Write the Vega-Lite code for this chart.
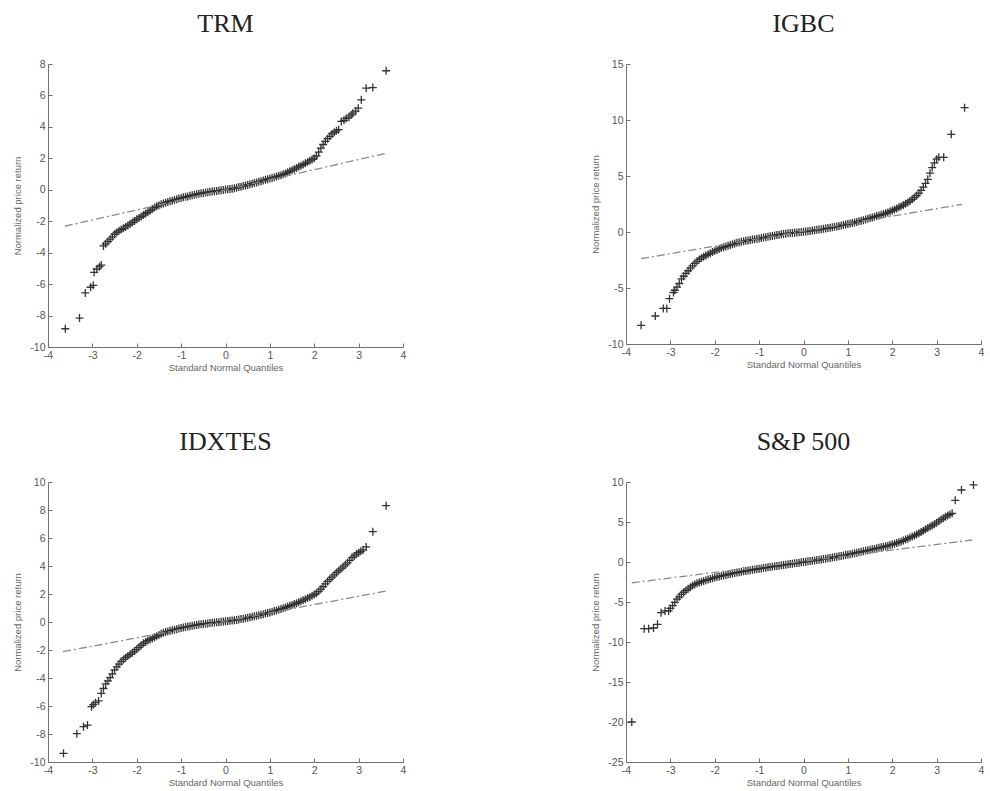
{
  "$schema": "https://vega.github.io/schema/vega-lite/v6.json",
  "background": "white",
  "padding": {"left": 12, "top": 11, "right": 5, "bottom": 5},
  "config": {
    "view": {"stroke": null},
    "title": {"font": "Liberation Serif", "fontSize": 26, "fontWeight": "normal", "color": "#222", "anchor": "middle", "offset": 22},
    "axis": {"domainColor": "#707070", "tickColor": "#707070", "labelColor": "#555", "titleColor": "#666", "labelFont": "Liberation Sans", "titleFont": "Liberation Sans", "labelFontSize": 10.5, "titleFontSize": 9.5, "titleFontWeight": "normal", "grid": false, "tickSize": -4, "labelPadding": 7, "titlePadding": 2, "labelFlush": false, "labelOverlap": false, "labelBound": false, "labelExpr": "'' + datum.value", "tickCount": 30},
    "axisY": {"titlePadding": 7}
  },
  "datasets": {
    "lines": [
      {"p": "TRM", "x": -3.62, "y": -2.32}, {"p": "TRM", "x": 3.62, "y": 2.32},
      {"p": "IGBC", "x": -3.66, "y": -2.38}, {"p": "IGBC", "x": 3.57, "y": 2.47},
      {"p": "IDXTES", "x": -3.66, "y": -2.12}, {"p": "IDXTES", "x": 3.62, "y": 2.21},
      {"p": "SP", "x": -3.87, "y": -2.6}, {"p": "SP", "x": 3.8, "y": 2.75}
    ],
    "trm": [
      {"x": -3.61, "y": -8.84}, {"x": -3.29, "y": -8.16}, {"x": -3.16, "y": -6.56}, {"x": -3.04, "y": -6.2}, {"x": -2.98, "y": -6.08},
      {"x": -2.96, "y": -5.25}, {"x": -2.9, "y": -5.04}, {"x": -2.84, "y": -4.89}, {"x": -2.8, "y": -4.79},
      {"x": -2.75, "y": -3.57}, {"x": -2.7, "y": -3.44}, {"x": -2.65, "y": -3.29}, {"x": -2.6, "y": -3.14}, {"x": -2.55, "y": -2.99},
      {"x": -2.5, "y": -2.83}, {"x": -2.45, "y": -2.7}, {"x": -2.4, "y": -2.61}, {"x": -2.35, "y": -2.53}, {"x": -2.3, "y": -2.45},
      {"x": -2.25, "y": -2.36}, {"x": -2.2, "y": -2.27}, {"x": -2.15, "y": -2.18}, {"x": -2.1, "y": -2.08}, {"x": -2.05, "y": -1.98},
      {"x": -2.0, "y": -1.88}, {"x": -1.95, "y": -1.79}, {"x": -1.9, "y": -1.7}, {"x": -1.85, "y": -1.61}, {"x": -1.8, "y": -1.52},
      {"x": -1.75, "y": -1.43}, {"x": -1.7, "y": -1.33}, {"x": -1.65, "y": -1.23}, {"x": -1.6, "y": -1.13}, {"x": -1.55, "y": -1.05},
      {"x": -1.5, "y": -0.98}, {"x": -1.45, "y": -0.92}, {"x": -1.4, "y": -0.87}, {"x": -1.35, "y": -0.82}, {"x": -1.3, "y": -0.77},
      {"x": -1.25, "y": -0.73}, {"x": -1.2, "y": -0.69}, {"x": -1.15, "y": -0.65}, {"x": -1.1, "y": -0.61}, {"x": -1.05, "y": -0.56},
      {"x": -1.0, "y": -0.52}, {"x": -0.95, "y": -0.48}, {"x": -0.9, "y": -0.45}, {"x": -0.85, "y": -0.42}, {"x": -0.8, "y": -0.38},
      {"x": -0.75, "y": -0.35}, {"x": -0.7, "y": -0.31}, {"x": -0.65, "y": -0.28}, {"x": -0.6, "y": -0.25}, {"x": -0.55, "y": -0.22},
      {"x": -0.5, "y": -0.2}, {"x": -0.45, "y": -0.17}, {"x": -0.4, "y": -0.15}, {"x": -0.35, "y": -0.13}, {"x": -0.3, "y": -0.11},
      {"x": -0.25, "y": -0.09}, {"x": -0.2, "y": -0.07}, {"x": -0.15, "y": -0.05}, {"x": -0.1, "y": -0.03}, {"x": -0.05, "y": -0.01},
      {"x": 0.0, "y": 0.01}, {"x": 0.05, "y": 0.03}, {"x": 0.1, "y": 0.05}, {"x": 0.15, "y": 0.07}, {"x": 0.2, "y": 0.1},
      {"x": 0.25, "y": 0.13}, {"x": 0.3, "y": 0.17}, {"x": 0.35, "y": 0.2}, {"x": 0.4, "y": 0.24}, {"x": 0.45, "y": 0.28},
      {"x": 0.5, "y": 0.31}, {"x": 0.55, "y": 0.35}, {"x": 0.6, "y": 0.39}, {"x": 0.65, "y": 0.43}, {"x": 0.7, "y": 0.47},
      {"x": 0.75, "y": 0.51}, {"x": 0.8, "y": 0.55}, {"x": 0.85, "y": 0.59}, {"x": 0.9, "y": 0.63}, {"x": 0.95, "y": 0.67},
      {"x": 1.0, "y": 0.71}, {"x": 1.05, "y": 0.75}, {"x": 1.1, "y": 0.8}, {"x": 1.15, "y": 0.84}, {"x": 1.2, "y": 0.89},
      {"x": 1.25, "y": 0.93}, {"x": 1.3, "y": 0.98}, {"x": 1.35, "y": 1.04}, {"x": 1.4, "y": 1.11}, {"x": 1.45, "y": 1.18},
      {"x": 1.5, "y": 1.25}, {"x": 1.55, "y": 1.32}, {"x": 1.6, "y": 1.39}, {"x": 1.65, "y": 1.46}, {"x": 1.7, "y": 1.53},
      {"x": 1.75, "y": 1.61}, {"x": 1.8, "y": 1.68}, {"x": 1.85, "y": 1.76}, {"x": 1.9, "y": 1.84}, {"x": 1.95, "y": 1.92},
      {"x": 2.0, "y": 2.01}, {"x": 2.05, "y": 2.15}, {"x": 2.1, "y": 2.4}, {"x": 2.15, "y": 2.65}, {"x": 2.2, "y": 2.88},
      {"x": 2.25, "y": 3.08}, {"x": 2.3, "y": 3.25}, {"x": 2.35, "y": 3.4}, {"x": 2.4, "y": 3.55}, {"x": 2.45, "y": 3.66},
      {"x": 2.5, "y": 3.75}, {"x": 2.55, "y": 3.82},
      {"x": 2.61, "y": 4.35}, {"x": 2.67, "y": 4.42}, {"x": 2.72, "y": 4.54}, {"x": 2.78, "y": 4.62}, {"x": 2.83, "y": 4.75},
      {"x": 2.87, "y": 4.87}, {"x": 2.93, "y": 5.0}, {"x": 2.99, "y": 5.19}, {"x": 3.06, "y": 5.72}, {"x": 3.17, "y": 6.46},
      {"x": 3.32, "y": 6.5}, {"x": 3.62, "y": 7.57}
    ],
    "igbc": [
      {"x": -3.66, "y": -8.33}, {"x": -3.34, "y": -7.5}, {"x": -3.16, "y": -6.82}, {"x": -3.08, "y": -6.82}, {"x": -3.02, "y": -5.95},
      {"x": -2.93, "y": -5.4}, {"x": -2.9, "y": -5.2},
      {"x": -2.85, "y": -4.92}, {"x": -2.8, "y": -4.6}, {"x": -2.75, "y": -4.18}, {"x": -2.7, "y": -3.95}, {"x": -2.65, "y": -3.7},
      {"x": -2.6, "y": -3.46}, {"x": -2.55, "y": -3.23}, {"x": -2.5, "y": -3.02}, {"x": -2.45, "y": -2.81}, {"x": -2.4, "y": -2.62},
      {"x": -2.35, "y": -2.45}, {"x": -2.3, "y": -2.33}, {"x": -2.25, "y": -2.21}, {"x": -2.2, "y": -2.09}, {"x": -2.15, "y": -1.99},
      {"x": -2.1, "y": -1.89}, {"x": -2.05, "y": -1.79}, {"x": -2.0, "y": -1.69}, {"x": -1.95, "y": -1.6}, {"x": -1.9, "y": -1.51},
      {"x": -1.85, "y": -1.43}, {"x": -1.8, "y": -1.36}, {"x": -1.75, "y": -1.29}, {"x": -1.7, "y": -1.22}, {"x": -1.65, "y": -1.15},
      {"x": -1.6, "y": -1.09}, {"x": -1.55, "y": -1.03}, {"x": -1.5, "y": -0.97}, {"x": -1.45, "y": -0.92}, {"x": -1.4, "y": -0.87},
      {"x": -1.35, "y": -0.83}, {"x": -1.3, "y": -0.79}, {"x": -1.25, "y": -0.75}, {"x": -1.2, "y": -0.72}, {"x": -1.15, "y": -0.68},
      {"x": -1.1, "y": -0.65}, {"x": -1.05, "y": -0.61}, {"x": -1.0, "y": -0.58}, {"x": -0.95, "y": -0.54}, {"x": -0.9, "y": -0.5},
      {"x": -0.85, "y": -0.47}, {"x": -0.8, "y": -0.43}, {"x": -0.75, "y": -0.39}, {"x": -0.7, "y": -0.35}, {"x": -0.65, "y": -0.31},
      {"x": -0.6, "y": -0.27}, {"x": -0.55, "y": -0.24}, {"x": -0.5, "y": -0.2}, {"x": -0.45, "y": -0.17}, {"x": -0.4, "y": -0.15},
      {"x": -0.35, "y": -0.12}, {"x": -0.3, "y": -0.1}, {"x": -0.25, "y": -0.08}, {"x": -0.2, "y": -0.06}, {"x": -0.15, "y": -0.04},
      {"x": -0.1, "y": -0.02}, {"x": -0.05, "y": 0.01}, {"x": 0.0, "y": 0.03}, {"x": 0.05, "y": 0.05}, {"x": 0.1, "y": 0.07},
      {"x": 0.15, "y": 0.1}, {"x": 0.2, "y": 0.13}, {"x": 0.25, "y": 0.16}, {"x": 0.3, "y": 0.19}, {"x": 0.35, "y": 0.22},
      {"x": 0.4, "y": 0.25}, {"x": 0.45, "y": 0.28}, {"x": 0.5, "y": 0.32}, {"x": 0.55, "y": 0.35}, {"x": 0.6, "y": 0.38},
      {"x": 0.65, "y": 0.42}, {"x": 0.7, "y": 0.46}, {"x": 0.75, "y": 0.5}, {"x": 0.8, "y": 0.54}, {"x": 0.85, "y": 0.59},
      {"x": 0.9, "y": 0.63}, {"x": 0.95, "y": 0.67}, {"x": 1.0, "y": 0.71}, {"x": 1.05, "y": 0.76}, {"x": 1.1, "y": 0.8},
      {"x": 1.15, "y": 0.85}, {"x": 1.2, "y": 0.9}, {"x": 1.25, "y": 0.95}, {"x": 1.3, "y": 1.0}, {"x": 1.35, "y": 1.06},
      {"x": 1.4, "y": 1.12}, {"x": 1.45, "y": 1.18}, {"x": 1.5, "y": 1.24}, {"x": 1.55, "y": 1.3}, {"x": 1.6, "y": 1.36},
      {"x": 1.65, "y": 1.42}, {"x": 1.7, "y": 1.48}, {"x": 1.75, "y": 1.54}, {"x": 1.8, "y": 1.6}, {"x": 1.85, "y": 1.67},
      {"x": 1.9, "y": 1.75}, {"x": 1.95, "y": 1.83}, {"x": 2.0, "y": 1.92}, {"x": 2.05, "y": 2.01}, {"x": 2.1, "y": 2.1},
      {"x": 2.15, "y": 2.2}, {"x": 2.2, "y": 2.3}, {"x": 2.25, "y": 2.41}, {"x": 2.3, "y": 2.52}, {"x": 2.35, "y": 2.64},
      {"x": 2.4, "y": 2.77}, {"x": 2.45, "y": 2.92}, {"x": 2.5, "y": 3.08}, {"x": 2.55, "y": 3.26}, {"x": 2.6, "y": 3.47},
      {"x": 2.65, "y": 3.71}, {"x": 2.7, "y": 4.01}, {"x": 2.75, "y": 4.35}, {"x": 2.8, "y": 4.7}, {"x": 2.85, "y": 5.25},
      {"x": 2.9, "y": 5.75}, {"x": 2.95, "y": 6.18},
      {"x": 3.0, "y": 6.5}, {"x": 3.05, "y": 6.67}, {"x": 3.16, "y": 6.67}, {"x": 3.33, "y": 8.72}, {"x": 3.63, "y": 11.1}
    ],
    "idx": [
      {"x": -3.65, "y": -9.38}, {"x": -3.35, "y": -7.98}, {"x": -3.2, "y": -7.48}, {"x": -3.11, "y": -7.36}, {"x": -3.02, "y": -6.05},
      {"x": -2.98, "y": -5.9}, {"x": -2.93, "y": -5.76}, {"x": -2.86, "y": -5.64},
      {"x": -2.8, "y": -5.1}, {"x": -2.75, "y": -4.75}, {"x": -2.7, "y": -4.42}, {"x": -2.65, "y": -4.2}, {"x": -2.6, "y": -3.98},
      {"x": -2.55, "y": -3.7}, {"x": -2.5, "y": -3.42}, {"x": -2.45, "y": -3.2}, {"x": -2.4, "y": -3.01}, {"x": -2.35, "y": -2.82},
      {"x": -2.3, "y": -2.67}, {"x": -2.25, "y": -2.55}, {"x": -2.2, "y": -2.43}, {"x": -2.15, "y": -2.31}, {"x": -2.1, "y": -2.2},
      {"x": -2.05, "y": -2.08}, {"x": -2.0, "y": -1.95}, {"x": -1.95, "y": -1.81}, {"x": -1.9, "y": -1.66}, {"x": -1.85, "y": -1.52},
      {"x": -1.8, "y": -1.42}, {"x": -1.75, "y": -1.33}, {"x": -1.7, "y": -1.25}, {"x": -1.65, "y": -1.17}, {"x": -1.6, "y": -1.09},
      {"x": -1.55, "y": -1.01}, {"x": -1.5, "y": -0.93}, {"x": -1.45, "y": -0.84}, {"x": -1.4, "y": -0.77}, {"x": -1.35, "y": -0.72},
      {"x": -1.3, "y": -0.67}, {"x": -1.25, "y": -0.63}, {"x": -1.2, "y": -0.59}, {"x": -1.15, "y": -0.55}, {"x": -1.1, "y": -0.51},
      {"x": -1.05, "y": -0.46}, {"x": -1.0, "y": -0.42}, {"x": -0.95, "y": -0.39}, {"x": -0.9, "y": -0.36}, {"x": -0.85, "y": -0.33},
      {"x": -0.8, "y": -0.3}, {"x": -0.75, "y": -0.27}, {"x": -0.7, "y": -0.24}, {"x": -0.65, "y": -0.21}, {"x": -0.6, "y": -0.18},
      {"x": -0.55, "y": -0.16}, {"x": -0.5, "y": -0.14}, {"x": -0.45, "y": -0.12}, {"x": -0.4, "y": -0.1}, {"x": -0.35, "y": -0.08},
      {"x": -0.3, "y": -0.06}, {"x": -0.25, "y": -0.04}, {"x": -0.2, "y": -0.02}, {"x": -0.15, "y": -0.01}, {"x": -0.1, "y": 0.01},
      {"x": -0.05, "y": 0.03}, {"x": 0.0, "y": 0.05}, {"x": 0.05, "y": 0.07}, {"x": 0.1, "y": 0.09}, {"x": 0.15, "y": 0.11},
      {"x": 0.2, "y": 0.13}, {"x": 0.25, "y": 0.15}, {"x": 0.3, "y": 0.18}, {"x": 0.35, "y": 0.21}, {"x": 0.4, "y": 0.24},
      {"x": 0.45, "y": 0.27}, {"x": 0.5, "y": 0.3}, {"x": 0.55, "y": 0.34}, {"x": 0.6, "y": 0.37}, {"x": 0.65, "y": 0.41},
      {"x": 0.7, "y": 0.45}, {"x": 0.75, "y": 0.48}, {"x": 0.8, "y": 0.52}, {"x": 0.85, "y": 0.56}, {"x": 0.9, "y": 0.6},
      {"x": 0.95, "y": 0.64}, {"x": 1.0, "y": 0.68}, {"x": 1.05, "y": 0.73}, {"x": 1.1, "y": 0.78}, {"x": 1.15, "y": 0.83},
      {"x": 1.2, "y": 0.88}, {"x": 1.25, "y": 0.93}, {"x": 1.3, "y": 0.98}, {"x": 1.35, "y": 1.04}, {"x": 1.4, "y": 1.1},
      {"x": 1.45, "y": 1.16}, {"x": 1.5, "y": 1.22}, {"x": 1.55, "y": 1.28}, {"x": 1.6, "y": 1.34}, {"x": 1.65, "y": 1.41},
      {"x": 1.7, "y": 1.48}, {"x": 1.75, "y": 1.56}, {"x": 1.8, "y": 1.63}, {"x": 1.85, "y": 1.71}, {"x": 1.9, "y": 1.79},
      {"x": 1.95, "y": 1.87}, {"x": 2.0, "y": 1.96}, {"x": 2.05, "y": 2.06}, {"x": 2.1, "y": 2.19}, {"x": 2.15, "y": 2.35},
      {"x": 2.2, "y": 2.53}, {"x": 2.25, "y": 2.72}, {"x": 2.3, "y": 2.9}, {"x": 2.35, "y": 3.05}, {"x": 2.4, "y": 3.2},
      {"x": 2.45, "y": 3.36}, {"x": 2.5, "y": 3.52}, {"x": 2.55, "y": 3.66}, {"x": 2.6, "y": 3.8}, {"x": 2.65, "y": 3.94},
      {"x": 2.7, "y": 4.08}, {"x": 2.75, "y": 4.23}, {"x": 2.8, "y": 4.4}, {"x": 2.85, "y": 4.6}, {"x": 2.9, "y": 4.72},
      {"x": 2.95, "y": 4.85}, {"x": 3.0, "y": 4.95},
      {"x": 3.05, "y": 5.05}, {"x": 3.1, "y": 5.15}, {"x": 3.17, "y": 5.36}, {"x": 3.32, "y": 6.45}, {"x": 3.62, "y": 8.31}
    ],
    "sp": [
      {"x": -3.87, "y": -20.0}, {"x": -3.59, "y": -8.33}, {"x": -3.49, "y": -8.33}, {"x": -3.38, "y": -8.25}, {"x": -3.29, "y": -7.79},
      {"x": -3.21, "y": -6.33}, {"x": -3.12, "y": -6.12}, {"x": -3.04, "y": -6.12}, {"x": -3.0, "y": -5.8},
      {"x": -2.95, "y": -5.45}, {"x": -2.9, "y": -5.05}, {"x": -2.85, "y": -4.65}, {"x": -2.8, "y": -4.35}, {"x": -2.75, "y": -4.05},
      {"x": -2.7, "y": -3.78}, {"x": -2.65, "y": -3.55}, {"x": -2.6, "y": -3.35}, {"x": -2.55, "y": -3.15}, {"x": -2.5, "y": -2.95},
      {"x": -2.45, "y": -2.8}, {"x": -2.4, "y": -2.67}, {"x": -2.35, "y": -2.56}, {"x": -2.3, "y": -2.46}, {"x": -2.25, "y": -2.37},
      {"x": -2.2, "y": -2.28}, {"x": -2.15, "y": -2.2}, {"x": -2.1, "y": -2.12}, {"x": -2.05, "y": -2.04}, {"x": -2.0, "y": -1.95},
      {"x": -1.95, "y": -1.87}, {"x": -1.9, "y": -1.8}, {"x": -1.85, "y": -1.74}, {"x": -1.8, "y": -1.68}, {"x": -1.75, "y": -1.62},
      {"x": -1.7, "y": -1.56}, {"x": -1.65, "y": -1.49}, {"x": -1.6, "y": -1.43}, {"x": -1.55, "y": -1.37}, {"x": -1.5, "y": -1.32},
      {"x": -1.45, "y": -1.27}, {"x": -1.4, "y": -1.22}, {"x": -1.35, "y": -1.17}, {"x": -1.3, "y": -1.12}, {"x": -1.25, "y": -1.07},
      {"x": -1.2, "y": -1.02}, {"x": -1.15, "y": -0.97}, {"x": -1.1, "y": -0.93}, {"x": -1.05, "y": -0.88}, {"x": -1.0, "y": -0.84},
      {"x": -0.95, "y": -0.8}, {"x": -0.9, "y": -0.75}, {"x": -0.85, "y": -0.71}, {"x": -0.8, "y": -0.67}, {"x": -0.75, "y": -0.62},
      {"x": -0.7, "y": -0.58}, {"x": -0.65, "y": -0.54}, {"x": -0.6, "y": -0.5}, {"x": -0.55, "y": -0.46}, {"x": -0.5, "y": -0.41},
      {"x": -0.45, "y": -0.37}, {"x": -0.4, "y": -0.33}, {"x": -0.35, "y": -0.29}, {"x": -0.3, "y": -0.25}, {"x": -0.25, "y": -0.21},
      {"x": -0.2, "y": -0.17}, {"x": -0.15, "y": -0.13}, {"x": -0.1, "y": -0.09}, {"x": -0.05, "y": -0.04}, {"x": 0.0, "y": 0.0},
      {"x": 0.05, "y": 0.04}, {"x": 0.1, "y": 0.08}, {"x": 0.15, "y": 0.12}, {"x": 0.2, "y": 0.16}, {"x": 0.25, "y": 0.2},
      {"x": 0.3, "y": 0.24}, {"x": 0.35, "y": 0.28}, {"x": 0.4, "y": 0.32}, {"x": 0.45, "y": 0.37}, {"x": 0.5, "y": 0.41},
      {"x": 0.55, "y": 0.46}, {"x": 0.6, "y": 0.51}, {"x": 0.65, "y": 0.56}, {"x": 0.7, "y": 0.61}, {"x": 0.75, "y": 0.66},
      {"x": 0.8, "y": 0.71}, {"x": 0.85, "y": 0.76}, {"x": 0.9, "y": 0.81}, {"x": 0.95, "y": 0.87}, {"x": 1.0, "y": 0.93},
      {"x": 1.05, "y": 0.98}, {"x": 1.1, "y": 1.04}, {"x": 1.15, "y": 1.1}, {"x": 1.2, "y": 1.16}, {"x": 1.25, "y": 1.22},
      {"x": 1.3, "y": 1.28}, {"x": 1.35, "y": 1.34}, {"x": 1.4, "y": 1.4}, {"x": 1.45, "y": 1.46}, {"x": 1.5, "y": 1.52},
      {"x": 1.55, "y": 1.58}, {"x": 1.6, "y": 1.64}, {"x": 1.65, "y": 1.71}, {"x": 1.7, "y": 1.77}, {"x": 1.75, "y": 1.84},
      {"x": 1.8, "y": 1.9}, {"x": 1.85, "y": 1.97}, {"x": 1.9, "y": 2.04}, {"x": 1.95, "y": 2.11}, {"x": 2.0, "y": 2.19},
      {"x": 2.05, "y": 2.28}, {"x": 2.1, "y": 2.37}, {"x": 2.15, "y": 2.47}, {"x": 2.2, "y": 2.57}, {"x": 2.25, "y": 2.68},
      {"x": 2.3, "y": 2.8}, {"x": 2.35, "y": 2.92}, {"x": 2.4, "y": 3.05}, {"x": 2.45, "y": 3.18}, {"x": 2.5, "y": 3.3},
      {"x": 2.55, "y": 3.43}, {"x": 2.6, "y": 3.59}, {"x": 2.65, "y": 3.75}, {"x": 2.7, "y": 3.92}, {"x": 2.75, "y": 4.08},
      {"x": 2.8, "y": 4.24}, {"x": 2.85, "y": 4.4}, {"x": 2.9, "y": 4.56}, {"x": 2.95, "y": 4.73}, {"x": 3.0, "y": 4.9},
      {"x": 3.05, "y": 5.1}, {"x": 3.1, "y": 5.3}, {"x": 3.15, "y": 5.48}, {"x": 3.2, "y": 5.65}, {"x": 3.25, "y": 5.82},
      {"x": 3.3, "y": 5.95}, {"x": 3.35, "y": 6.08},
      {"x": 3.42, "y": 7.71}, {"x": 3.56, "y": 9.0}, {"x": 3.83, "y": 9.63}
    ]
  },
  "vconcat": [
    {
      "hconcat": [
        {
          "title": "TRM", "width": 355, "height": 283,
          "layer": [
            {"data": {"name": "trm"}, "mark": {"type": "point", "shape": "M-1,0H1M0,-1V1", "filled": false, "color": "#333", "strokeWidth": 1.3, "size": 64, "opacity": 1},
             "encoding": {"x": {"field": "x", "type": "quantitative", "scale": {"domain": [-4, 4], "nice": false}, "axis": {"values": [-4, -3, -2, -1, 0, 1, 2, 3, 4], "tickCount": 30, "title": "Standard Normal Quantiles", "labelOverlap": false}},
                          "y": {"field": "y", "type": "quantitative", "scale": {"domain": [-10, 8], "nice": false}, "axis": {"values": [-10, -8, -6, -4, -2, 0, 2, 4, 6, 8], "tickCount": 30, "title": "Normalized price return", "labelOverlap": false}}}},
            {"data": {"name": "lines"}, "transform": [{"filter": "datum.p === 'TRM'"}], "mark": {"type": "line", "color": "#8a8a8a", "strokeWidth": 1.3, "strokeDash": [8, 3, 2, 3]},
             "encoding": {"x": {"field": "x", "type": "quantitative"}, "y": {"field": "y", "type": "quantitative"}}}
          ]
        },
        {
          "title": "IGBC", "width": 355, "height": 280,
          "layer": [
            {"data": {"name": "igbc"}, "mark": {"type": "point", "shape": "M-1,0H1M0,-1V1", "filled": false, "color": "#333", "strokeWidth": 1.3, "size": 64, "opacity": 1},
             "encoding": {"x": {"field": "x", "type": "quantitative", "scale": {"domain": [-4, 4], "nice": false}, "axis": {"values": [-4, -3, -2, -1, 0, 1, 2, 3, 4], "tickCount": 30, "title": "Standard Normal Quantiles", "labelOverlap": false}},
                          "y": {"field": "y", "type": "quantitative", "scale": {"domain": [-10, 15], "nice": false}, "axis": {"values": [-10, -5, 0, 5, 10, 15], "tickCount": 30, "title": "Normalized price return", "labelOverlap": false}}}},
            {"data": {"name": "lines"}, "transform": [{"filter": "datum.p === 'IGBC'"}], "mark": {"type": "line", "color": "#8a8a8a", "strokeWidth": 1.3, "strokeDash": [8, 3, 2, 3]},
             "encoding": {"x": {"field": "x", "type": "quantitative"}, "y": {"field": "y", "type": "quantitative"}}}
          ]
        }
      ],
      "spacing": 184
    },
    {
      "hconcat": [
        {
          "title": "IDXTES", "width": 355, "height": 280,
          "layer": [
            {"data": {"name": "idx"}, "mark": {"type": "point", "shape": "M-1,0H1M0,-1V1", "filled": false, "color": "#333", "strokeWidth": 1.3, "size": 64, "opacity": 1},
             "encoding": {"x": {"field": "x", "type": "quantitative", "scale": {"domain": [-4, 4], "nice": false}, "axis": {"values": [-4, -3, -2, -1, 0, 1, 2, 3, 4], "tickCount": 30, "title": "Standard Normal Quantiles", "labelOverlap": false}},
                          "y": {"field": "y", "type": "quantitative", "scale": {"domain": [-10, 10], "nice": false}, "axis": {"values": [-10, -8, -6, -4, -2, 0, 2, 4, 6, 8, 10], "tickCount": 30, "title": "Normalized price return", "labelOverlap": false}}}},
            {"data": {"name": "lines"}, "transform": [{"filter": "datum.p === 'IDXTES'"}], "mark": {"type": "line", "color": "#8a8a8a", "strokeWidth": 1.3, "strokeDash": [8, 3, 2, 3]},
             "encoding": {"x": {"field": "x", "type": "quantitative"}, "y": {"field": "y", "type": "quantitative"}}}
          ]
        },
        {
          "title": "S&P 500", "width": 355, "height": 280,
          "layer": [
            {"data": {"name": "sp"}, "mark": {"type": "point", "shape": "M-1,0H1M0,-1V1", "filled": false, "color": "#333", "strokeWidth": 1.3, "size": 64, "opacity": 1},
             "encoding": {"x": {"field": "x", "type": "quantitative", "scale": {"domain": [-4, 4], "nice": false}, "axis": {"values": [-4, -3, -2, -1, 0, 1, 2, 3, 4], "tickCount": 30, "title": "Standard Normal Quantiles", "labelOverlap": false}},
                          "y": {"field": "y", "type": "quantitative", "scale": {"domain": [-25, 10], "nice": false}, "axis": {"values": [-25, -20, -15, -10, -5, 0, 5, 10], "tickCount": 30, "title": "Normalized price return", "labelOverlap": false}}}},
            {"data": {"name": "lines"}, "transform": [{"filter": "datum.p === 'SP'"}], "mark": {"type": "line", "color": "#8a8a8a", "strokeWidth": 1.3, "strokeDash": [8, 3, 2, 3]},
             "encoding": {"x": {"field": "x", "type": "quantitative"}, "y": {"field": "y", "type": "quantitative"}}}
          ]
        }
      ],
      "spacing": 184
    }
  ],
  "spacing": 57
}
